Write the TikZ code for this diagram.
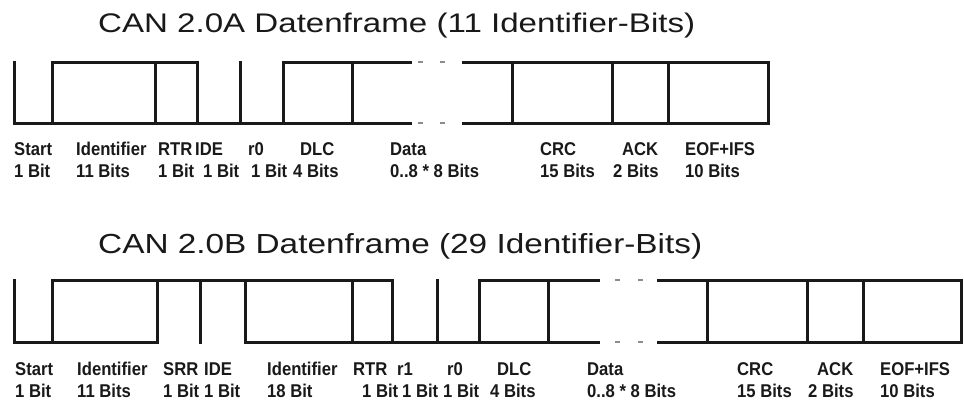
\documentclass[tikz,border=0pt]{standalone}
\usepackage{fontspec}
\setmainfont{Liberation Sans}
\newfontfamily\lblfont{Liberation Sans}[FakeStretch=0.9]
\usepackage{graphicx}
\begin{document}
\begin{tikzpicture}[x=1pt,y=-1pt,
  wave/.style={line width=3pt,line join=miter,line cap=rect,black!90},
  gapdash/.style={line width=2pt,black!45},
  lbl/.style={anchor=base west,inner sep=0pt,font=\lblfont\fontsize{18.5}{18.5}\bfseries\selectfont,text=black!90},
  ttl/.style={anchor=base west,inner sep=0pt,text=black!90}]
\useasboundingbox[fill=white] (0,0) rectangle (964,399);

% ---------- Titles ----------
\node[ttl] (t1) at (98,32) {\resizebox{597pt}{19.5pt}{\fontsize{26}{26}\selectfont CAN 2.0A Datenframe (11 Identifier-Bits)}};
\node[ttl] (t2) at (98,253) {\resizebox{604pt}{20pt}{\fontsize{26}{26}\selectfont CAN 2.0B Datenframe (29 Identifier-Bits)}};

% ---------- CAN 2.0A frame ----------
\draw[wave] (14,62) -- (14,123) -- (410,123);
\draw[wave] (52,123) -- (52,62) -- (197,62) -- (197,123);
\draw[wave] (155,62) -- (155,123);
\draw[wave] (240,123) -- (240,62);
\draw[wave] (283,123) -- (283,62) -- (410,62);
\draw[wave] (352,62) -- (352,123);
\draw[wave] (463,62) -- (768,62) -- (768,123) -- (463,123);
\draw[wave] (512,62) -- (512,123);
\draw[wave] (612,62) -- (612,123);
\draw[wave] (668,62) -- (668,123);
\foreach \x in {418,440}{
  \draw[gapdash] (\x,62) -- ++(5,0);
  \draw[gapdash] (\x,123) -- ++(5,0);
}

% labels A
\node[lbl] (a1) at (14,155) {Start};      \node[lbl] (a1b) at (14,177) {1 Bit};
\node[lbl] (a2) at (76,155) {Identifier}; \node[lbl] (a2b) at (76,177) {11 Bits};
\node[lbl] (a3) at (158,155) {RTR};       \node[lbl] (a3b) at (158,177) {1 Bit};
\node[lbl] (a4) at (195,155) {IDE};       \node[lbl] (a4b) at (203,177) {1 Bit};
\node[lbl] (a5) at (248,155) {r0};        \node[lbl] (a5b) at (251,177) {1 Bit};
\node[lbl] (a6) at (300,155) {DLC};       \node[lbl] (a6b) at (293,177) {4 Bits};
\node[lbl] (a7) at (390,155) {Data};      \node[lbl] (a7b) at (390,177) {0..8 * 8 Bits};
\node[lbl] (a8) at (540,155) {CRC};       \node[lbl] (a8b) at (540,177) {15 Bits};
\node[lbl] (a9) at (622,155) {ACK};       \node[lbl] (a9b) at (613,177) {2 Bits};
\node[lbl] (a10) at (685,155) {EOF+IFS};  \node[lbl] (a10b) at (685,177) {10 Bits};

% ---------- CAN 2.0B frame ----------
\draw[wave] (14,280) -- (14,342) -- (157,342);
\draw[wave] (52,342) -- (52,280) -- (392,280) -- (392,342);
\draw[wave] (157,280) -- (157,342);
\draw[wave] (200,280) -- (200,342);
\draw[wave] (245,280) -- (245,342) -- (598,342);
\draw[wave] (352,280) -- (352,342);
\draw[wave] (437,342) -- (437,280);
\draw[wave] (479,342) -- (479,280) -- (598,280);
\draw[wave] (548,280) -- (548,342);
\draw[wave] (658,280) -- (961,280) -- (961,342) -- (658,342);
\draw[wave] (707,280) -- (707,342);
\draw[wave] (807,280) -- (807,342);
\draw[wave] (863,280) -- (863,342);
\foreach \x in {615,638}{
  \draw[gapdash] (\x,280) -- ++(5,0);
  \draw[gapdash] (\x,342) -- ++(5,0);
}

% labels B
\node[lbl] (b1) at (15,375) {Start};       \node[lbl] (b1b) at (15,397) {1 Bit};
\node[lbl] (b2) at (77,375) {Identifier};  \node[lbl] (b2b) at (77,397) {11 Bits};
\node[lbl] (b3) at (163,375) {SRR};        \node[lbl] (b3b) at (163,397) {1 Bit};
\node[lbl] (b4) at (204,375) {IDE};        \node[lbl] (b4b) at (204,397) {1 Bit};
\node[lbl] (b5) at (267,375) {Identifier}; \node[lbl] (b5b) at (267,397) {18 Bit};
\node[lbl] (b6) at (353,375) {RTR};        \node[lbl] (b6b) at (362,397) {1 Bit};
\node[lbl] (b7) at (397,375) {r1};         \node[lbl] (b7b) at (402,397) {1 Bit};
\node[lbl] (b8) at (447,375) {r0};         \node[lbl] (b8b) at (443,397) {1 Bit};
\node[lbl] (b9) at (497,375) {DLC};        \node[lbl] (b9b) at (490,397) {4 Bits};
\node[lbl] (b10) at (587,375) {Data};      \node[lbl] (b10b) at (587,397) {0..8 * 8 Bits};
\node[lbl] (b11) at (737,375) {CRC};       \node[lbl] (b11b) at (737,397) {15 Bits};
\node[lbl] (b12) at (817,375) {ACK};       \node[lbl] (b12b) at (808,397) {2 Bits};
\node[lbl] (b13) at (880,375) {EOF+IFS};   \node[lbl] (b13b) at (880,397) {10 Bits};
\end{tikzpicture}
\end{document}
